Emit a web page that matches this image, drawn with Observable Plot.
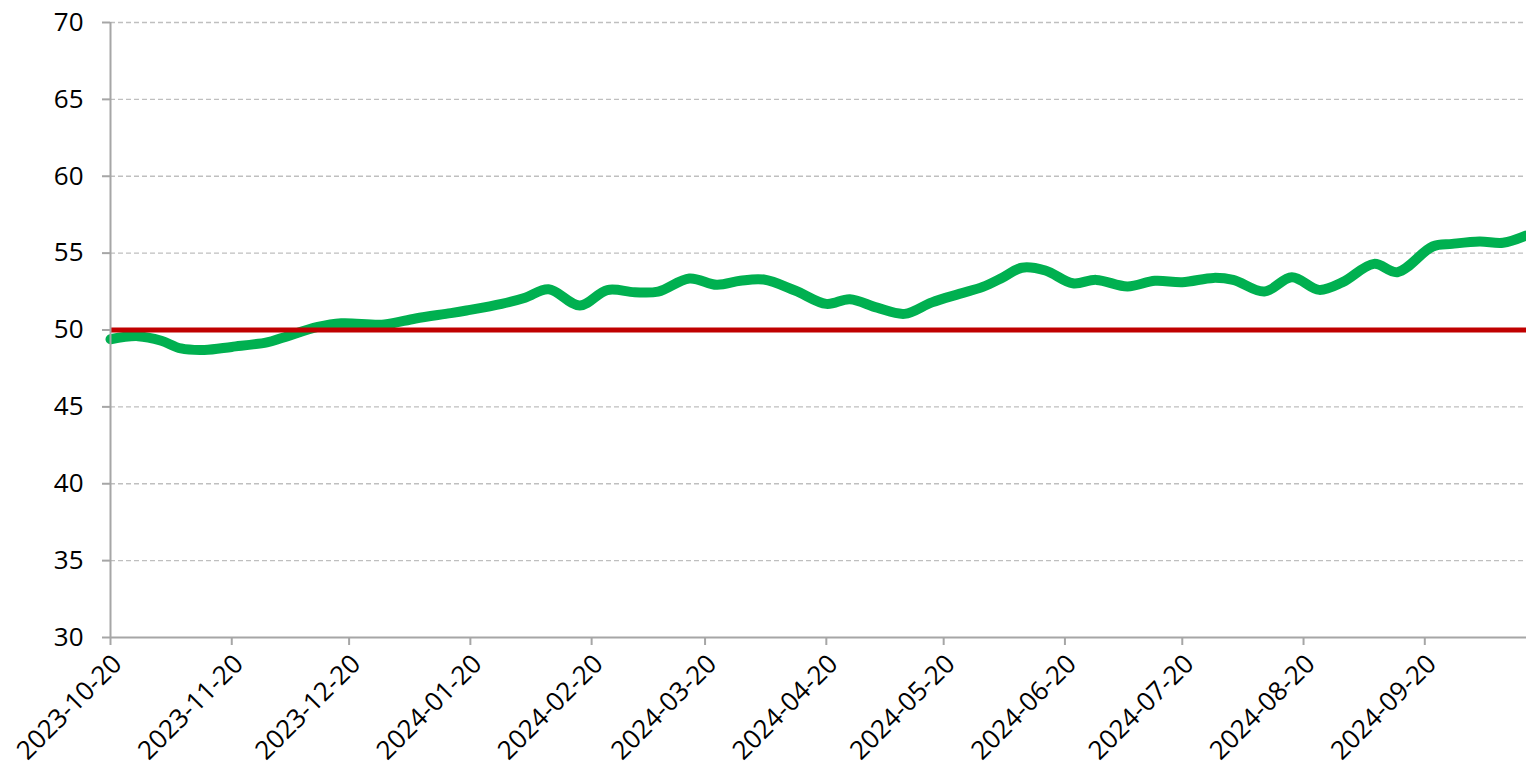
<!DOCTYPE html>
<html><head><meta charset="utf-8">
<script src="https://cdn.jsdelivr.net/npm/d3@7"></script>
<script src="https://cdn.jsdelivr.net/npm/@observablehq/plot@0.6"></script>
<style>body{margin:0;background:#fff}</style>
</head><body><div id="chart"></div>
<script>
const dates = ["2023-10-20","2023-10-27","2023-11-02","2023-11-07","2023-11-13","2023-11-20","2023-11-29","2023-12-03","2023-12-12","2023-12-18","2023-12-29","2024-01-06","2024-01-15","2024-01-19","2024-01-28","2024-02-03","2024-02-09","2024-02-17","2024-02-24","2024-03-02","2024-03-08","2024-03-16","2024-03-23","2024-03-29","2024-04-04","2024-04-12","2024-04-20","2024-04-26","2024-05-03","2024-05-10","2024-05-17","2024-05-24","2024-05-30","2024-06-04","2024-06-09","2024-06-15","2024-06-22","2024-06-28","2024-07-06","2024-07-13","2024-07-20","2024-07-28","2024-08-02","2024-08-10","2024-08-17","2024-08-24","2024-08-30","2024-09-07","2024-09-13","2024-09-22","2024-09-27","2024-10-04","2024-10-10","2024-10-16"];
const values = [49.4,49.6,49.3,48.8,48.7,48.9,49.2,49.5,50.2,50.44,50.36,50.75,51.1,51.27,51.7,52.1,52.65,51.6,52.6,52.46,52.5,53.35,52.94,53.2,53.28,52.57,51.7,52.0,51.45,51.05,51.8,52.35,52.8,53.4,54.05,53.87,53.04,53.26,52.83,53.2,53.11,53.39,53.26,52.5,53.43,52.61,53.11,54.3,53.76,55.43,55.6,55.76,55.67,56.15];
const thresholdValue = 50;
const yTicks = [30,35,40,45,50,55,60,65,70];
const xTickLabels = ["2023-10-20","2023-11-20","2023-12-20","2024-01-20","2024-02-20","2024-03-20","2024-04-20","2024-05-20","2024-06-20","2024-07-20","2024-08-20","2024-09-20"];
const xStart = "2023-10-20", xEnd = "2024-10-16";

const data = dates.map((d, i) => ({date: new Date(d), value: values[i]}));
const xTicks = xTickLabels.map(d => new Date(d));
const axisColor = "#a6a6a6";

const chart = Plot.plot({
  width: 1526, height: 765,
  marginLeft: 110, marginRight: 0, marginTop: 22, marginBottom: 128,
  style: {fontFamily: "'Open Sans', sans-serif", fontSize: "26px", color: "#000", background: "#fff", overflow: "visible"},
  x: {type: "utc", domain: [new Date(xStart), new Date(xEnd)]},
  y: {domain: [30, 70]},
  marks: [
    Plot.gridY(yTicks.filter(d => d > 30), {stroke: "#bfbfbf", strokeOpacity: 1, strokeWidth: 1.3, strokeDasharray: "5,3"}),
    Plot.lineY(data, {x: "date", y: "value", stroke: "#00b050", strokeWidth: 10, curve: "catmull-rom"}),
    Plot.ruleY([thresholdValue], {stroke: "#c00000", strokeWidth: 5}),
    Plot.ruleY([30], {stroke: axisColor, strokeWidth: 2}),
    Plot.ruleX([new Date(xStart)], {stroke: axisColor, strokeWidth: 2}),
    Plot.axisY({ticks: yTicks, tickSize: 8, tickPadding: 19, fontSize: 26, stroke: axisColor, strokeWidth: 2, fill: "#000", label: null}),
    Plot.axisX({ticks: xTicks, tickFormat: () => "", tickSize: 8, stroke: axisColor, strokeWidth: 2, label: null}),
    Plot.axisX({ticks: xTicks, tickFormat: d3.utcFormat("%Y-%m-%d"), tickRotate: -45, tickSize: 0, tickPadding: 22, dx: 7, fontSize: 26, fill: "#000", label: null})
  ]
});
document.getElementById("chart").appendChild(chart);
</script>
</body></html>
